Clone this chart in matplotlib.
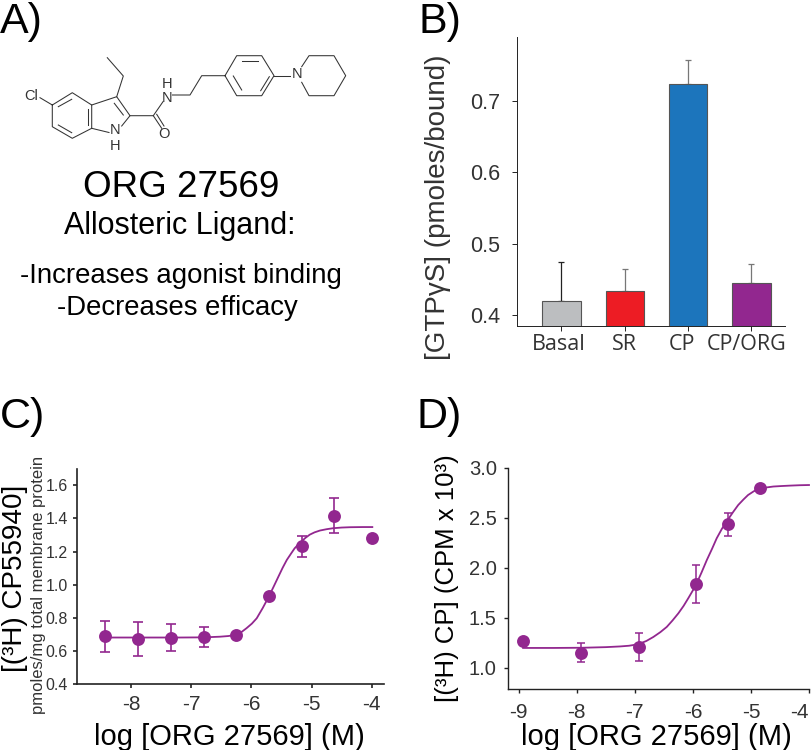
import matplotlib
matplotlib.use('Agg')
import matplotlib.pyplot as plt

W, H = 812, 750
PURPLE = '#92278F'
TXT = '#333333'

plt.rcParams['font.family'] = ['Liberation Sans', 'DejaVu Sans']

# Panel B data
bar_names = ['Basal', 'SR', 'CP', 'CP/ORG']
bar_values = [0.420, 0.434, 0.724, 0.445]
bar_errors = [0.055, 0.031, 0.034, 0.026]
bar_colors = ['#BCBEC0', '#ED1C24', '#1C75BC', '#92278F']
bar_err_colors = ['#222222', '#777777', '#777777', '#777777']

# Panel C data
c_x = [-8.43, -7.88, -7.34, -6.79, -6.25, -5.71, -5.165, -4.62, -4.0]
c_y = [0.689, 0.673, 0.681, 0.683, 0.695, 0.931, 1.232, 1.417, 1.284]
c_err_low = [0.092, 0.102, 0.082, 0.060, 0, 0, 0.064, 0.107, 0]
c_err_high = [0.095, 0.105, 0.085, 0.065, 0, 0, 0.064, 0.109, 0]
c_curve_x = [-8.43, -7.8, -7.2, -6.79, -6.52, -6.38, -6.245, -6.16, -6.08, -5.99, -5.91, -5.81, -5.71,
             -5.63, -5.55, -5.48, -5.41, -5.34, -5.28, -5.22, -5.165, -5.10, -5.03, -4.95, -4.86,
             -4.75, -4.64, -4.5, -4.36, -4.15, -3.99]
c_curve_y = [0.682, 0.682, 0.682, 0.683, 0.687, 0.691, 0.699, 0.716, 0.738, 0.766, 0.798, 0.860, 0.928,
             0.988, 1.049, 1.102, 1.150, 1.188, 1.220, 1.243, 1.262, 1.283, 1.302, 1.316, 1.327,
             1.335, 1.341, 1.345, 1.347, 1.348, 1.348]

# Panel D data
d_x = [-8.925, -7.925, -6.925, -5.94, -5.39, -4.845]
d_y = [1.27, 1.15, 1.21, 1.835, 2.434, 2.797]
d_err_low = [0, 0.09, 0.14, 0.186, 0.116, 0]
d_err_high = [0, 0.096, 0.14, 0.19, 0.113, 0]
d_curve_x = [-8.925, -8.4, -7.9, -7.5, -7.256, -7.1, -6.94, -6.8, -6.68, -6.56, -6.45, -6.35, -6.25, -6.16,
             -6.08, -6.0, -5.94, -5.85, -5.76, -5.67, -5.59, -5.5, -5.40, -5.31, -5.22, -5.13, -5.05,
             -4.95, -4.85, -4.73, -4.615, -4.47, -4.33, -4.16, -4.0]
d_curve_y = [1.20, 1.20, 1.202, 1.208, 1.215, 1.222, 1.237, 1.270, 1.31, 1.358, 1.41, 1.475, 1.546, 1.620,
             1.696, 1.775, 1.838, 1.955, 2.078, 2.19, 2.295, 2.39, 2.478, 2.555, 2.627, 2.682, 2.727,
             2.765, 2.79, 2.803, 2.812, 2.817, 2.821, 2.825, 2.827]

# Molecule drawing, pixel positions on the figure
mol_bonds = [
    [(107.3, 57.7), (123.3, 76), (116.7, 96.7)],
    [(40, 97.7), (52.3, 105), (72.3, 92.7), (91.7, 105), (91.7, 128.3), (72.3, 138.3), (52.3, 126.7), (52.3, 105)],
    [(58.3, 106.7), (71.7, 99.3)], [(88.3, 109.3), (88.3, 125)], [(58.3, 125), (71.7, 132.7)],
    [(91.7, 105), (116.7, 96.7), (130, 115.7), (121.7, 126)], [(91.7, 128.3), (109, 132.5)],
    [(114.3, 103.3), (123.3, 115)],
    [(130, 115.7), (153.3, 115.7), (161.7, 128.3)], [(156.7, 114.3), (164, 126)],
    [(153.3, 115.7), (163, 101.7)], [(172.5, 95), (190, 95), (201.7, 75.7), (225, 75.7)],
    [(225, 75.7), (236.7, 55.7), (261.7, 55.7), (274, 75.7), (261.7, 95.7), (236.7, 95.7), (225, 75.7)],
    [(241.7, 60.7), (258.3, 60.7)], [(233.3, 76), (241.7, 90)], [(269.3, 76.7), (260.7, 90.7)],
    [(274, 75.7), (290, 75.7)],
    [(301.7, 66.7), (309, 55.7), (334, 55.7), (345.7, 75.7), (334, 95.7), (309, 95.7), (301.7, 82.3)],
]
mol_atoms = [('Cl', 31.5, 96.5), ('N', 115, 130.5), ('H', 115, 146), ('O', 163.5, 133.5),
             ('N', 166.7, 98.5), ('H', 166.7, 83.5), ('N', 297, 74)]


def px_axes(left, top, right, bottom):
    return fig.add_axes([left / W, 1 - bottom / H, (right - left) / W, (bottom - top) / H])


def style(ax, lw, length):
    ax.spines['top'].set_visible(False)
    ax.spines['right'].set_visible(False)
    ax.spines['left'].set_linewidth(lw)
    ax.spines['bottom'].set_linewidth(lw)
    ax.spines['left'].set_color('#222222')
    ax.spines['bottom'].set_color('#222222')
    ax.tick_params(length=length, width=lw, color='#222222', labelcolor=TXT)


fig = plt.figure(figsize=(W / 100, H / 100), dpi=100)

# Overlay in pixels for the panel text and the molecule
bg = fig.add_axes([0, 0, 1, 1])
bg.set_xlim(0, W)
bg.set_ylim(H, 0)
bg.axis('off')


def label(x, y, s, size, ha='left', va='baseline', rot=0, color='black', **kw):
    bg.text(x, y, s, fontsize=size, ha=ha, va=va, rotation=rot, color=color, **kw)


label(0, 33, 'A)', 31)
label(419, 33, 'B)', 31)
label(0, 428, 'C)', 31)
label(417, 428, 'D)', 31)

for bond in mol_bonds:
    bg.plot([p[0] for p in bond], [p[1] for p in bond], color='#333333', lw=0.75)
for name, ax_x, ax_y in mol_atoms:
    label(ax_x, ax_y, name, 10.5, ha='center', va='center', color='#333333')

label(181, 197, 'ORG 27569', 26.5, ha='center')
label(180, 234, 'Allosteric Ligand:', 22, ha='center')
label(181, 283, '-Increases agonist binding', 19.9, ha='center')
label(177, 315, '-Decreases efficacy', 19.8, ha='center')

# Panel B
ax_b = px_axes(517.3, 37, 785, 325.7)
positions = list(range(len(bar_names)))
ax_b.bar(positions, bar_values, width=0.604, color=bar_colors, edgecolor='#555555', linewidth=0.8, zorder=3)
for i in positions:
    ax_b.errorbar(i, bar_values[i], yerr=[[0], [bar_errors[i]]], color=bar_err_colors[i],
                  capsize=2, elinewidth=0.9, capthick=0.9, zorder=2)
ax_b.set_xlim(-0.698, 3.53)
ax_b.set_ylim(0.385, 0.79)
ax_b.set_yticks([0.4, 0.5, 0.6, 0.7])
ax_b.set_yticklabels(['0.4', '0.5', '0.6', '0.7'])
ax_b.set_xticks(positions)
ax_b.set_xticklabels([])
style(ax_b, 0.7, 3.5)
ax_b.tick_params(axis='y', labelsize=15.5, pad=9)
for name, x in zip(bar_names, [559, 624.7, 682, 747]):
    label(x, 350, name, 15.5, ha='center', color=TXT, family='Open Sans')
label(438, 207, '[GTPγS] (pmoles/bound)', 20, ha='center', va='center', rot=90, color=TXT)

# Panel C
ax_c = px_axes(77.3, 469, 384, 684.3)
ax_c.plot(c_curve_x, c_curve_y, color=PURPLE, lw=1.3, zorder=2)
ax_c.errorbar(c_x, c_y, yerr=[c_err_low, c_err_high], fmt='none', ecolor=PURPLE,
              capsize=3.8, elinewidth=1.2, capthick=1.2, zorder=3)
ax_c.plot(c_x, c_y, 'o', color=PURPLE, ms=9.3, mew=0, zorder=4)
ax_c.set_xlim(-8.89, -3.796)
ax_c.set_ylim(0.4, 1.698)
ax_c.set_xticks([-8, -7, -6, -5, -4])
ax_c.set_xticklabels(['-8', '-7', '-6', '-5', '-4'])
ax_c.set_yticks([0.4, 0.6, 0.8, 1.0, 1.2, 1.4, 1.6])
ax_c.set_yticklabels(['0.4', '0.6', '0.8', '1.0', '1.2', '1.4', '1.6'])
style(ax_c, 1.2, 2.8)
ax_c.tick_params(axis='x', labelsize=15, pad=5)
ax_c.tick_params(axis='y', labelsize=11.5, pad=4)
label(15, 578.6, '[(³H) CP55940]', 20, ha='center', va='center', rot=90)
label(39, 585, 'pmoles/mg total membrane protein', 12, ha='center', va='center', rot=90, color=TXT)
label(229, 737, 'log [ORG 27569] (M)', 21, ha='center', va='center')

# Panel D
ax_d = px_axes(507.7, 467.7, 809, 689)
ax_d.plot(d_curve_x, d_curve_y, color=PURPLE, lw=1.3, zorder=2, clip_on=False)
ax_d.errorbar(d_x, d_y, yerr=[d_err_low, d_err_high], fmt='none', ecolor=PURPLE,
              capsize=3, elinewidth=1.1, capthick=1.1, zorder=3)
ax_d.plot(d_x, d_y, 'o', color=PURPLE, ms=9.3, mew=0, zorder=4)
ax_d.set_xlim(-9.19, -4)
ax_d.set_ylim(0.79, 3.0)
ax_d.set_xticks([-9, -8, -7, -6, -5, -4])
ax_d.set_xticklabels(['-9', '-8', '-7', '-6', '-5', '-4'])
ax_d.set_yticks([1.0, 1.5, 2.0, 2.5, 3.0])
ax_d.set_yticklabels(['1.0', '1.5', '2.0', '2.5', '3.0'])
style(ax_d, 1.0, 2.8)
ax_d.tick_params(axis='x', labelsize=15, pad=7)
ax_d.tick_params(axis='y', labelsize=14.5, pad=5)
ax_d.get_xticklabels()[-1].set_ha('right')
label(447, 578, '[(³H) CP] (CPM x 10³)', 18.5, ha='center', va='center', rot=90)
label(656.7, 737, 'log [ORG 27569] (M)', 21, ha='center', va='center')

fig.savefig('out.png', dpi=100)
